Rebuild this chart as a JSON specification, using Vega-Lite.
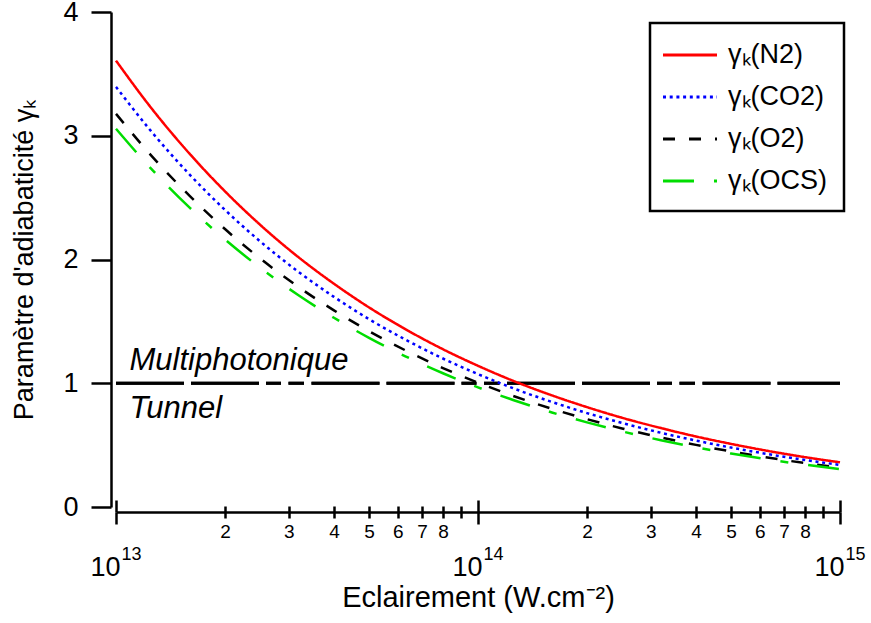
{
  "$schema": "https://vega.github.io/schema/vega-lite/v6.json",
  "width": 724,
  "height": 495,
  "autosize": {"type": "none"},
  "padding": {"left": 116, "top": 12, "right": 31, "bottom": 116},
  "background": "white",
  "config": {
    "font": "Liberation Sans",
    "view": {"stroke": null},
    "legend": {"strokeWidth": 2.5},
    "axis": {
      "domainColor": "black", "tickColor": "black", "labelColor": "black", "titleColor": "black",
      "domainWidth": 2.5, "tickWidth": 2.5, "grid": false,
      "labelFont": "Liberation Sans", "titleFont": "Liberation Sans", "titleFontWeight": "normal",
      "labelOverlap": false, "labelFlush": false, "labelBound": false
    }
  },
  "datasets": {
    "curves": [
      {"I": 1e13, "N2": 3.607, "CO2": 3.395, "O2": 3.177, "OCS": 3.057},
      {"I": 1.25e13, "N2": 3.226, "CO2": 3.037, "O2": 2.842, "OCS": 2.734},
      {"I": 1.6e13, "N2": 2.852, "CO2": 2.684, "O2": 2.512, "OCS": 2.417},
      {"I": 2e13, "N2": 2.551, "CO2": 2.401, "O2": 2.246, "OCS": 2.162},
      {"I": 2.5e13, "N2": 2.281, "CO2": 2.147, "O2": 2.009, "OCS": 1.934},
      {"I": 3.2e13, "N2": 2.016, "CO2": 1.898, "O2": 1.776, "OCS": 1.709},
      {"I": 4e13, "N2": 1.804, "CO2": 1.698, "O2": 1.589, "OCS": 1.529},
      {"I": 5e13, "N2": 1.613, "CO2": 1.518, "O2": 1.421, "OCS": 1.367},
      {"I": 6.3e13, "N2": 1.437, "CO2": 1.353, "O2": 1.266, "OCS": 1.218},
      {"I": 8e13, "N2": 1.275, "CO2": 1.2, "O2": 1.123, "OCS": 1.081},
      {"I": 1e14, "N2": 1.141, "CO2": 1.074, "O2": 1.005, "OCS": 0.967},
      {"I": 1.25e14, "N2": 1.02, "CO2": 0.96, "O2": 0.898, "OCS": 0.865},
      {"I": 1.6e14, "N2": 0.902, "CO2": 0.849, "O2": 0.794, "OCS": 0.764},
      {"I": 2e14, "N2": 0.807, "CO2": 0.759, "O2": 0.71, "OCS": 0.684},
      {"I": 2.5e14, "N2": 0.721, "CO2": 0.679, "O2": 0.635, "OCS": 0.611},
      {"I": 3.2e14, "N2": 0.638, "CO2": 0.6, "O2": 0.562, "OCS": 0.54},
      {"I": 4e14, "N2": 0.57, "CO2": 0.537, "O2": 0.502, "OCS": 0.483},
      {"I": 5e14, "N2": 0.51, "CO2": 0.48, "O2": 0.449, "OCS": 0.432},
      {"I": 6.3e14, "N2": 0.454, "CO2": 0.428, "O2": 0.4, "OCS": 0.385},
      {"I": 8e14, "N2": 0.403, "CO2": 0.38, "O2": 0.355, "OCS": 0.342},
      {"I": 1e15, "N2": 0.361, "CO2": 0.34, "O2": 0.318, "OCS": 0.306}
    ],
    "limit": [{"I0": 1e13, "I1": 1e15, "y": 1}],
    "upper": [{"I": 1.09e13, "y": 1.107, "label": "Multiphotonique"}],
    "lower": [{"I": 1.09e13, "y": 0.719, "label": "Tunnel"}]
  },
  "layer": [
    {
      "data": {"name": "limit"},
      "mark": {"type": "rule", "color": "black", "strokeWidth": 3, "strokeDash": [68, 7, 68, 7, 15, 7.5, 15.5, 7.5], "strokeCap": "butt"},
      "encoding": {
        "x": {"field": "I0", "type": "quantitative", "scale": {"type": "log", "domain": [1e13, 1e15], "nice": false},
              "axis": {"orient": "bottom", "offset": 5, "values": [1e13, 1e14, 1e15], "tickSize": -12, "labels": false, "domain": false, "title": null}},
        "x2": {"field": "I1"},
        "y": {"field": "y", "type": "quantitative", "scale": {"domain": [0, 4], "nice": false},
              "axis": {"values": [0, 1, 2, 3, 4], "format": "d", "offset": 5, "tickSize": 20, "labelFontSize": 27, "labelPadding": 13,
                       "title": "Paramètre d'adiabaticité γₖ", "titleFontSize": 27, "titlePadding": 24}}
      }
    },
    {
      "data": {"name": "limit"},
      "mark": {"type": "rule", "color": "black", "strokeWidth": 3, "strokeDash": [68, 7, 68, 7, 15, 7.5, 15.5, 7.5], "strokeCap": "butt"},
      "encoding": {
        "x": {"field": "I0", "type": "quantitative", "scale": {"type": "log", "domain": [1e13, 1e15], "nice": false},
              "axis": {"orient": "bottom", "offset": 5, "values": [1e13, 1e14, 1e15], "ticks": false, "tickSize": 0, "domain": false, "title": null,
                       "labelExpr": "datum.value < 5e13 ? '13' : (datum.value < 5e14 ? '14' : '15')",
                       "labelFontSize": 18, "labelPadding": 33, "labelOffset": 15}},
        "x2": {"field": "I1"},
        "y": {"field": "y", "type": "quantitative", "scale": {"domain": [0, 4], "nice": false}}
      }
    },
    {
      "data": {"name": "curves"},
      "transform": [{"fold": ["N2", "CO2", "O2", "OCS"], "as": ["serie", "gamma"]}],
      "mark": {"type": "line", "strokeWidth": 2.5, "interpolate": "monotone", "strokeCap": "butt"},
      "encoding": {
        "x": {"field": "I", "type": "quantitative", "scale": {"type": "log", "domain": [1e13, 1e15], "nice": false},
              "axis": {"orient": "bottom", "offset": 5, "values": [1e13, 1e14, 1e15], "tickSize": 12,
                       "labelExpr": "'10'", "labelFontSize": 27, "labelPadding": 30, "labelOffset": -11,
                       "title": "Eclairement (W.cm⁻²)", "titleFontSize": 29, "titlePadding": 3}},
        "y": {"field": "gamma", "type": "quantitative", "scale": {"domain": [0, 4], "nice": false}},
        "color": {"field": "serie", "type": "nominal",
                  "scale": {"domain": ["N2", "CO2", "O2", "OCS"], "range": ["#ff0000", "#0000ff", "#000000", "#00dd00"]},
                  "legend": {"orient": "none", "legendX": 534, "legendY": 11, "title": null, "strokeColor": "black",
                             "fillColor": "white", "padding": 17, "symbolType": "M-2,0H2", "symbolSize": 729, "symbolStrokeWidth": 3,
                             "symbolOffset": 8, "labelFontSize": 27, "labelOffset": 23, "rowPadding": 14, "labelColor": "black", "labelFont": "Liberation Sans",
                             "labelExpr": "'γₖ(' + datum.label + ')'"}},
        "strokeDash": {"field": "serie", "type": "nominal",
                       "scale": {"domain": ["N2", "CO2", "O2", "OCS"], "range": [[1, 0], [3, 3.7], [12, 14], [31, 20, 8, 20]]},
                       "legend": {"orient": "none", "legendX": 534, "legendY": 11, "title": null, "strokeColor": "black",
                                  "fillColor": "white", "padding": 17, "symbolType": "M-2,0H2", "symbolSize": 729, "symbolStrokeWidth": 3,
                                  "symbolOffset": 8, "labelFontSize": 27, "labelOffset": 23, "rowPadding": 14, "labelColor": "black", "labelFont": "Liberation Sans",
                                  "labelExpr": "'γₖ(' + datum.label + ')'"}}
      }
    },
    {
      "data": {"name": "upper"},
      "mark": {"type": "text", "align": "left", "baseline": "alphabetic", "fontSize": 31, "fontStyle": "italic", "color": "black"},
      "encoding": {
        "x": {"field": "I", "type": "quantitative", "scale": {"type": "log", "domain": [1e13, 1e15], "nice": false},
              "axis": {"orient": "bottom", "offset": 5,
                       "values": [2e13, 3e13, 4e13, 5e13, 6e13, 7e13, 8e13, 9e13, 2e14, 3e14, 4e14, 5e14, 6e14, 7e14, 8e14, 9e14],
                       "tickSize": 6, "labelFontSize": 19, "labelPadding": 4, "domain": false, "title": null,
                       "labelExpr": "datum.value < 1e14 ? (round(datum.value/1e13) == 9 ? '' : '' + round(datum.value/1e13)) : (round(datum.value/1e14) == 9 ? '' : '' + round(datum.value/1e14))"}},
        "y": {"field": "y", "type": "quantitative", "scale": {"domain": [0, 4], "nice": false}},
        "text": {"field": "label"}
      }
    },
    {
      "data": {"name": "lower"},
      "mark": {"type": "text", "align": "left", "baseline": "alphabetic", "fontSize": 31, "fontStyle": "italic", "color": "black"},
      "encoding": {
        "x": {"field": "I", "type": "quantitative", "scale": {"type": "log", "domain": [1e13, 1e15], "nice": false},
              "axis": {"orient": "bottom", "offset": 5,
                       "values": [2e13, 3e13, 4e13, 5e13, 6e13, 7e13, 8e13, 9e13, 2e14, 3e14, 4e14, 5e14, 6e14, 7e14, 8e14, 9e14],
                       "tickSize": -6, "labels": false, "domain": false, "title": null}},
        "y": {"field": "y", "type": "quantitative", "scale": {"domain": [0, 4], "nice": false}},
        "text": {"field": "label"}
      }
    }
  ],
  "resolve": {"axis": {"x": "independent"}}
}
